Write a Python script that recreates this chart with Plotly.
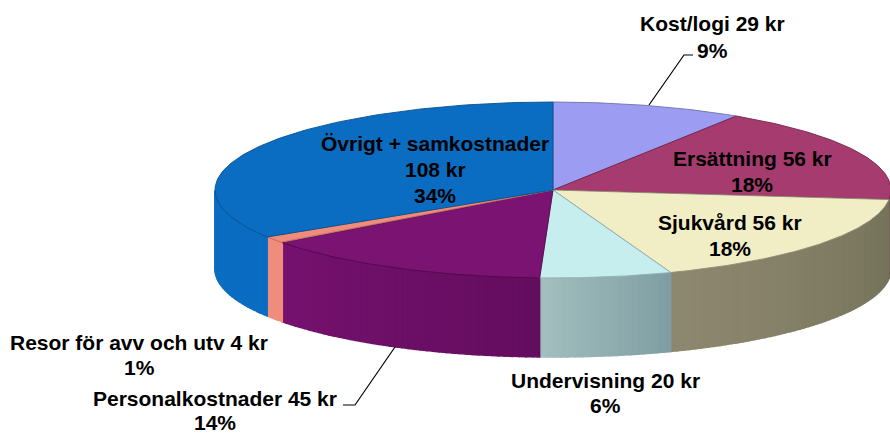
import numpy as np
import plotly.graph_objects as go

categories = ["Kost/logi", "Ersättning", "Sjukvård", "Undervisning", "Personalkostnader", "Resor för avv och utv", "Övrigt + samkostnader"]
amounts_kr = [29, 56, 56, 20, 45, 4, 108]
percent_labels = ["9%", "18%", "18%", "6%", "14%", "1%", "34%"]
top_colors = ["#9C9CF2", "#A63B6F", "#F1EEC6", "#C6EEEE", "#7B1373", "#F08C7C", "#0A6DC2"]
side_left = ["#8686D0", "#8E3260", "#8F8870", "#A3BFBF", "#761270", "#F08C7C", "#0A6DC2"]
side_right = ["#8686D0", "#8E3260", "#74725A", "#7F9EA3", "#640D5F", "#F08C7C", "#0A6DC2"]
edge_colors = ["#6F6FB0", "#6E2548", "#8F8C70", "#8FB0B0", "#4E0A4A", "#C06858", "#07508F"]

CX, CY, RX, RY, DEPTH = 553.0, 190.0, 338.0, 88.0, 79.0
FONT = "Liberation Sans, Arial, sans-serif"

label_xy = [(712, [23, 50]), (752, [158, 184]), (730, [222, 248]), (605, [380, 405]),
            (215, [398, 422]), (139, [342, 367]), (435, [143, 169, 195])]
leader_x = [[649, 684, 693], [395, 355, 343]]
leader_y = [[105, 55, 55], [347, 405, 405]]


def hex_rgb(c):
    return np.array([int(c[i:i + 2], 16) for i in (1, 3, 5)], dtype=float)


def ex(t):
    return CX + RX * np.sin(t)


def ey(t):
    return CY - RY * np.cos(t)


fig = go.Figure()
vals = np.array(amounts_kr, dtype=float)
edges = np.concatenate([[0], np.cumsum(vals)]) / vals.sum() * 2 * np.pi

# side walls (front half only), in thin vertical strips for the shading
for i in range(len(vals)):
    a, b = max(edges[i], np.pi / 2), min(edges[i + 1], 3 * np.pi / 2)
    if b <= a:
        continue
    n = max(1, int((b - a) / 0.02))
    c_r, c_l = hex_rgb(side_right[i]), hex_rgb(side_left[i])
    for k in range(n):
        f = (k + 0.5) / n
        t = np.linspace(a + (b - a) * k / n, a + (b - a) * (k + 1) / n, 3)
        xs = np.concatenate([ex(t), ex(t)[::-1]])
        ys = np.concatenate([ey(t), ey(t)[::-1] + DEPTH])
        col = c_r + (c_l - c_r) * f
        rgb = "rgb(%d,%d,%d)" % tuple(col)
        fig.add_trace(go.Scatter(x=list(xs) + [xs[0]], y=list(ys) + [ys[0]], mode="lines", fill="toself",
                                 fillcolor=rgb, line=dict(color=rgb, width=1.5), hoverinfo="skip"))

# top faces
for i in range(len(vals)):
    t = np.linspace(edges[i], edges[i + 1], 120)
    xs = [CX] + list(ex(t)) + [CX]
    ys = [CY] + list(ey(t)) + [CY]
    fig.add_trace(go.Scatter(x=xs, y=ys, mode="lines", fill="toself", fillcolor=top_colors[i],
                             line=dict(color=edge_colors[i], width=0.9), hoverinfo="skip", name=categories[i]))

# leader lines
for lx, ly in zip(leader_x, leader_y):
    fig.add_trace(go.Scatter(x=lx, y=ly, mode="lines", line=dict(color="black", width=1.2), hoverinfo="skip"))

# labels
for i, (cx, ys) in enumerate(label_xy):
    if categories[i].startswith("Övrigt"):
        lines = [categories[i], f"{amounts_kr[i]} kr", percent_labels[i]]
    else:
        lines = [f"{categories[i]} {amounts_kr[i]} kr", percent_labels[i]]
    for line, y in zip(lines, ys):
        fig.add_annotation(x=cx, y=y, text=f"<b>{line}</b>", showarrow=False, xanchor="center", yanchor="middle",
                           font=dict(family=FONT, size=21, color="black"))

fig.update_layout(width=890, height=433, margin=dict(l=0, r=0, t=0, b=0), showlegend=False,
                  paper_bgcolor="white", plot_bgcolor="white",
                  xaxis=dict(range=[0, 890], visible=False, fixedrange=True),
                  yaxis=dict(range=[433, 0], visible=False, fixedrange=True))
fig.write_html("out.html", config={"displayModeBar": False},
               post_script="document.body.style.margin='0';document.documentElement.style.overflow='hidden';")
